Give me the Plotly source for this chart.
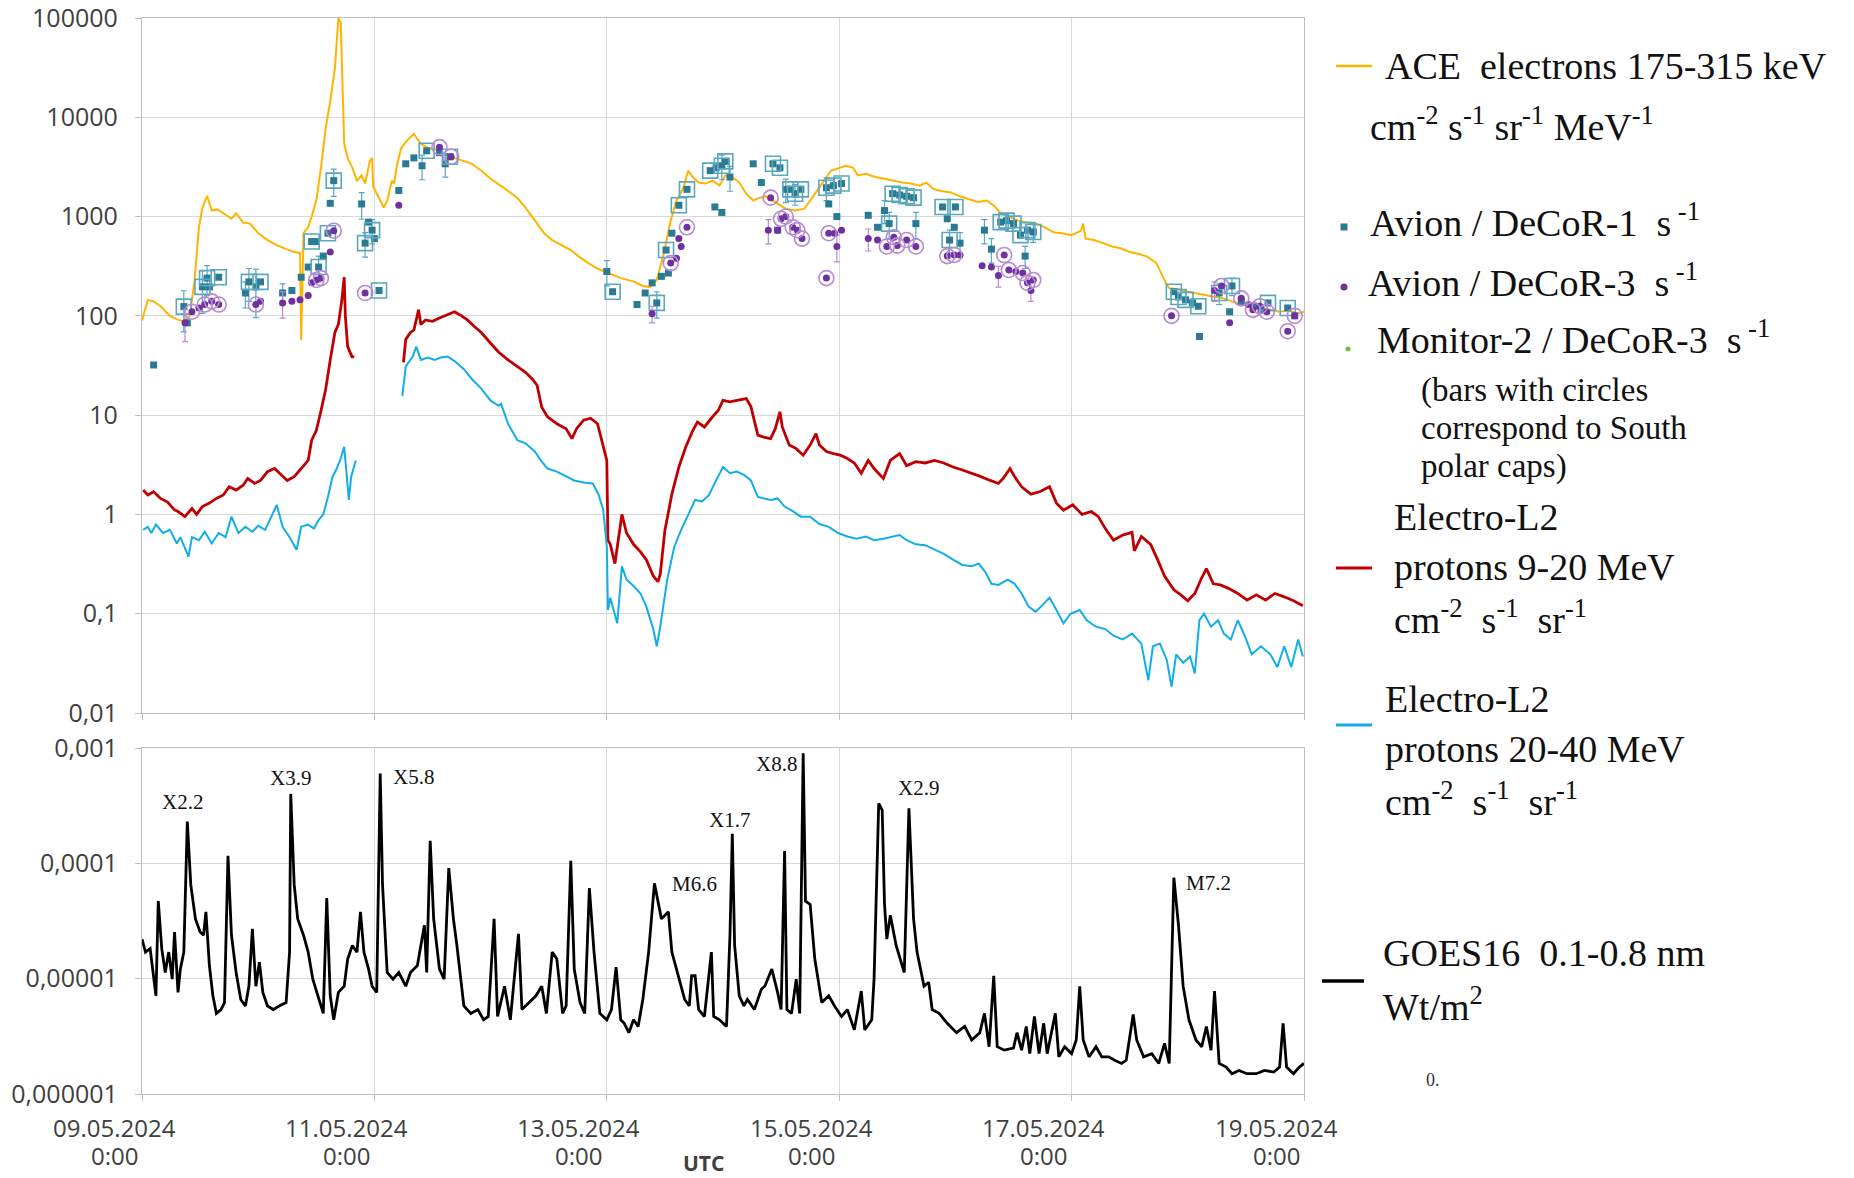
import pandas as pd
import plotly.graph_objects as go

# ---------------- DATA (x = day of May 2024, fractional) ----------------
ace = [(9.00,90),(9.05,145),(9.10,140),(9.16,125),(9.24,100),(9.31,91),(9.37,88),(9.41,100),(9.45,215),(9.49,780),
       (9.52,1230),(9.56,1620),(9.60,1150),(9.65,1180),(9.70,1080),(9.77,950),(9.81,1080),(9.87,870),(9.93,850),(10.00,680),
       (10.08,580),(10.16,515),(10.23,475),(10.31,440),(10.36,430),(10.37,57),(10.39,680),(10.43,780),(10.46,1000),(10.50,1450),
       (10.54,3100),(10.58,7700),(10.62,14500),(10.66,31000),(10.69,100000),(10.71,90000),(10.72,36000),(10.74,5400),(10.77,3900),(10.81,3100),
       (10.85,2300),(10.89,2600),(10.92,2150),(10.96,3600),(10.98,3900),(10.99,2000),(11.04,1540),(11.08,1230),(11.11,1440),(11.15,2300),
       (11.17,2150),(11.19,3100),(11.23,4900),(11.29,6000),(11.34,6800),(11.40,5400),(11.46,4900),(11.54,4700),(11.61,4200),(11.69,3900),
       (11.77,3600),(11.84,3400),(11.92,2900),(12.00,2400),(12.11,1960),(12.23,1540),(12.30,1230),(12.38,910),(12.46,680),(12.53,580),
       (12.61,515),(12.69,460),(12.76,395),(12.84,340),(12.92,300),(13.01,270),(13.12,240),(13.24,220),(13.31,200),(13.37,195),
       (13.43,230),(13.49,425),(13.55,910),(13.60,1450),(13.66,1960),(13.70,2900),(13.74,2500),(13.79,2200),(13.85,2150),(13.91,2300),
       (13.97,2050),(14.02,2600),(14.08,2500),(14.14,2200),(14.20,1700),(14.26,1450),(14.31,1540),(14.37,1600),(14.43,1450),(14.49,1290),
       (14.54,1200),(14.62,1150),(14.70,1200),(14.75,1450),(14.81,1800),(14.87,2300),(14.93,2900),(15.00,3100),(15.06,3250),(15.12,3100),
       (15.16,2600),(15.23,2700),(15.31,2500),(15.39,2400),(15.46,2300),(15.54,2200),(15.62,2150),(15.69,2050),(15.75,2200),(15.81,1900),
       (15.89,1800),(15.96,1750),(16.04,1600),(16.12,1500),(16.19,1400),(16.27,1450),(16.33,1290),(16.39,1080),(16.46,1000),(16.54,910),
       (16.62,870),(16.69,850),(16.77,780),(16.85,690),(16.92,680),(17.00,650),(17.08,720),(17.10,850),(17.12,600),(17.19,580),
       (17.27,540),(17.35,500),(17.42,480),(17.50,440),(17.58,420),(17.65,395),(17.73,340),(17.77,270),(17.81,215),(17.84,190),
       (17.92,185),(18.00,175),(18.07,170),(18.15,162),(18.23,155),(18.31,150),(18.38,140),(18.46,130),(18.54,125),(18.61,120),
       (18.69,115),(18.80,110),(18.86,115),(18.94,105),(19.00,110)]

red = [(9.01,1.76),(9.05,1.57),(9.10,1.69),(9.16,1.45),(9.22,1.33),(9.28,1.11),(9.31,1.07),(9.37,0.95),(9.43,1.15),(9.47,1.0),
       (9.52,1.2),(9.58,1.3),(9.64,1.45),(9.70,1.57),(9.75,1.9),(9.81,1.76),(9.87,1.97),(9.91,2.3),(9.97,2.05),(10.02,2.2),
       (10.08,2.7),(10.14,2.9),(10.20,2.5),(10.25,2.2),(10.31,2.4),(10.37,2.9),(10.43,3.5),(10.46,5.6),(10.50,7.0),(10.54,11),
       (10.58,18),(10.62,36),(10.66,68),(10.69,82),(10.72,145),(10.74,245),(10.75,100),(10.77,49),(10.81,38),(10.82,40),
       (11.00,None),
       (11.25,34),(11.27,58),(11.31,68),(11.34,72),(11.38,115),(11.40,82),(11.44,91),(11.50,88),(11.56,95),(11.61,100),
       (11.69,110),(11.75,100),(11.80,91),(11.86,78),(11.92,68),(12.00,53),(12.07,43),(12.15,36),(12.23,31),(12.30,27),
       (12.36,23),(12.40,20),(12.44,12),(12.49,9.6),(12.57,8.2),(12.65,7.3),(12.70,5.8),(12.74,7.3),(12.80,8.9),(12.86,9.3),
       (12.92,8.2),(12.97,4.8),(13.00,3.5),(13.01,0.55),(13.03,0.5),(13.07,0.32),(13.13,1.0),(13.17,0.65),(13.23,0.5),(13.29,0.42),
       (13.34,0.35),(13.40,0.24),(13.44,0.21),(13.46,0.25),(13.50,0.69),(13.56,1.6),(13.62,3.0),(13.68,4.8),(13.74,7.0),(13.78,8.5),
       (13.84,7.6),(13.90,9.3),(13.96,11.2),(14.00,14.1),(14.06,13.6),(14.12,14.1),(14.20,14.7),(14.24,12.2),(14.30,6.3),(14.35,6.0),
       (14.41,5.8),(14.45,7.3),(14.49,10.8),(14.51,7.6),(14.57,5.0),(14.63,4.6),(14.69,3.95),(14.75,5.0),(14.80,6.5),(14.83,5.0),
       (14.89,4.3),(14.95,4.1),(15.01,3.95),(15.07,3.65),(15.13,3.3),(15.19,2.6),(15.25,3.5),(15.30,2.9),(15.38,2.3),(15.44,3.5),
       (15.52,4.1),(15.58,3.1),(15.66,3.4),(15.74,3.3),(15.82,3.5),(15.90,3.3),(15.98,3.0),(16.06,2.8),(16.14,2.6),(16.22,2.4),
       (16.30,2.2),(16.37,2.05),(16.41,2.3),(16.47,2.9),(16.51,2.4),(16.57,1.9),(16.65,1.6),(16.73,1.7),(16.81,1.9),(16.87,1.3),
       (16.93,1.1),(17.01,1.25),(17.09,1.0),(17.17,1.07),(17.23,0.95),(17.29,0.72),(17.36,0.55),(17.44,0.62),(17.52,0.66),(17.54,0.43),
       (17.60,0.6),(17.68,0.5),(17.74,0.35),(17.80,0.24),(17.88,0.174),(17.94,0.155),(18.00,0.135),(18.06,0.16),(18.12,0.23),(18.16,0.285),
       (18.22,0.2),(18.28,0.195),(18.35,0.18),(18.43,0.16),(18.51,0.137),(18.59,0.155),(18.67,0.137),(18.75,0.16),(18.83,0.148),(18.91,0.135),
       (18.99,0.12)]

blue = [(9.01,0.70),(9.05,0.75),(9.08,0.65),(9.12,0.79),(9.18,0.65),(9.24,0.70),(9.30,0.51),(9.33,0.59),(9.40,0.375),(9.43,0.59),
        (9.49,0.55),(9.54,0.67),(9.60,0.51),(9.66,0.65),(9.72,0.59),(9.77,0.95),(9.83,0.65),(9.89,0.75),(9.95,0.67),(10.00,0.77),
        (10.06,0.70),(10.10,0.88),(10.16,1.25),(10.21,0.75),(10.27,0.59),(10.33,0.44),(10.37,0.75),(10.43,0.79),(10.48,0.72),(10.52,0.88),
        (10.56,1.0),(10.60,1.5),(10.64,2.4),(10.67,2.8),(10.71,3.65),(10.74,4.8),(10.76,2.8),(10.78,1.4),(10.80,2.4),(10.84,3.5),
        (11.00,None),
        (11.24,15.6),(11.27,31),(11.33,39),(11.36,49),(11.40,36),(11.46,38),(11.52,36),(11.57,38),(11.63,39),(11.69,35),
        (11.77,29),(11.84,23),(11.92,18.5),(12.00,14),(12.07,12.4),(12.09,13.0),(12.15,8.2),(12.23,5.6),(12.30,5.2),(12.38,4.3),
        (12.44,3.4),(12.49,2.9),(12.57,2.7),(12.65,2.4),(12.72,2.2),(12.80,2.1),(12.88,2.05),(12.93,1.57),(12.97,1.1),(13.00,0.47),
        (13.01,0.109),(13.03,0.145),(13.09,0.08),(13.13,0.3),(13.17,0.22),(13.23,0.19),(13.29,0.16),(13.34,0.118),(13.40,0.07),(13.43,0.047),
        (13.46,0.074),(13.52,0.22),(13.58,0.47),(13.64,0.7),(13.70,1.0),(13.76,1.4),(13.82,1.35),(13.88,1.57),(13.94,2.2),(14.00,3.0),
        (14.06,2.6),(14.12,2.7),(14.18,2.5),(14.24,2.2),(14.30,1.5),(14.35,1.45),(14.41,1.4),(14.47,1.45),(14.53,1.2),(14.59,1.1),
        (14.67,0.95),(14.75,0.95),(14.83,0.8),(14.91,0.75),(14.99,0.65),(15.07,0.6),(15.15,0.57),(15.23,0.6),(15.30,0.55),(15.38,0.57),
        (15.46,0.6),(15.52,0.62),(15.58,0.55),(15.66,0.5),(15.74,0.49),(15.82,0.44),(15.90,0.4),(15.98,0.35),(16.06,0.31),(16.14,0.3),
        (16.20,0.32),(16.26,0.26),(16.31,0.2),(16.37,0.195),(16.45,0.22),(16.51,0.2),(16.57,0.16),(16.63,0.118),(16.69,0.105),(16.75,0.122),
        (16.81,0.145),(16.87,0.109),(16.93,0.08),(16.99,0.1),(17.07,0.109),(17.13,0.086),(17.21,0.074),(17.29,0.07),(17.36,0.06),(17.44,0.055),
        (17.52,0.063),(17.60,0.05),(17.66,0.0214),(17.70,0.047),(17.76,0.05),(17.82,0.034),(17.86,0.0184),(17.90,0.039),(17.96,0.032),(18.02,0.037),
        (18.06,0.025),(18.10,0.086),(18.14,0.1),(18.20,0.074),(18.26,0.086),(18.31,0.063),(18.37,0.055),(18.43,0.086),(18.49,0.06),(18.55,0.039),
        (18.63,0.047),(18.71,0.039),(18.77,0.029),(18.83,0.047),(18.89,0.029),(18.95,0.055),(18.99,0.037)]

goes = [(9.00,2.2e-5),(9.03,1.7e-5),(9.07,1.82e-5),(9.10,9.9e-6),(9.12,7.1e-6),(9.14,4.7e-5),(9.17,1.82e-5),(9.20,1.13e-5),(9.23,1.7e-5),(9.26,9.9e-6),
        (9.28,2.54e-5),(9.31,7.6e-6),(9.33,1.21e-5),(9.36,1.7e-5),(9.39,2.3e-4),(9.42,6.5e-5),(9.46,3.3e-5),(9.50,2.54e-5),(9.53,2.38e-5),(9.55,3.8e-5),
        (9.58,1.3e-5),(9.61,7.1e-6),(9.64,5.0e-6),(9.68,5.4e-6),(9.71,6.2e-6),(9.74,1.16e-4),(9.77,2.38e-5),(9.81,1.13e-5),(9.85,6.6e-6),(9.89,5.8e-6),
        (9.92,8.6e-6),(9.95,2.7e-5),(9.98,8.6e-6),(10.01,1.39e-5),(10.04,7.6e-6),(10.08,5.8e-6),(10.13,5.4e-6),(10.18,5.8e-6),(10.24,6.2e-6),(10.27,1.7e-5),
        (10.28,4.0e-4),(10.31,6.5e-5),(10.34,3.3e-5),(10.39,2.38e-5),(10.43,1.7e-5),(10.47,9.9e-6),(10.52,6.6e-6),(10.56,5.0e-6),(10.59,5.0e-5),(10.62,7.1e-6),
        (10.65,4.4e-6),(10.69,7.6e-6),(10.74,8.6e-6),(10.77,1.48e-5),(10.81,1.94e-5),(10.85,1.7e-5),(10.88,3.8e-5),(10.91,1.7e-5),(10.95,1.21e-5),(10.98,8.6e-6),
        (11.02,7.6e-6),(11.05,6.0e-4),(11.07,6.5e-5),(11.11,1.13e-5),(11.16,9.9e-6),(11.21,1.13e-5),(11.27,8.6e-6),(11.31,1.13e-5),(11.37,1.3e-5),(11.43,2.9e-5),
        (11.45,1.13e-5),(11.48,1.57e-4),(11.51,3.3e-5),(11.56,1.21e-5),(11.60,9.9e-6),(11.64,9.1e-5),(11.68,3.3e-5),(11.71,1.94e-5),(11.77,5.8e-6),(11.83,5.0e-6),
        (11.89,5.4e-6),(11.94,4.4e-6),(11.98,4.7e-6),(12.03,3.3e-5),(12.06,4.7e-6),(12.12,8.6e-6),(12.17,4.4e-6),(12.24,2.45e-5),(12.27,5.4e-6),(12.33,6.2e-6),
        (12.39,7.1e-6),(12.44,8.6e-6),(12.48,5.0e-6),(12.53,1.7e-5),(12.57,1.48e-5),(12.62,5.0e-6),(12.65,5.8e-6),(12.69,1.05e-4),(12.72,1.21e-5),(12.77,6.2e-6),
        (12.81,5.0e-6),(12.85,6.1e-5),(12.89,1.7e-5),(12.94,5.0e-6),(13.00,4.4e-6),(13.04,5.4e-6),(13.08,1.26e-5),(13.12,4.4e-6),(13.15,4.1e-6),(13.19,3.4e-6),
        (13.23,4.4e-6),(13.27,3.85e-6),(13.31,6.6e-6),(13.36,1.7e-5),(13.41,6.7e-5),(13.47,3.3e-5),(13.53,3.8e-5),(13.56,1.7e-5),(13.62,9.9e-6),(13.67,6.6e-6),
        (13.71,5.8e-6),(13.73,1.06e-5),(13.76,1.06e-5),(13.79,5.4e-6),(13.84,4.7e-6),(13.90,1.7e-5),(13.92,4.7e-6),(13.97,4.4e-6),(14.03,3.85e-6),(14.06,2.38e-5),
        (14.08,1.8e-4),(14.10,1.94e-5),(14.14,7.1e-6),(14.18,5.8e-6),(14.21,6.6e-6),(14.27,5.4e-6),(14.33,8.1e-6),(14.36,8.6e-6),(14.42,1.21e-5),(14.47,7.6e-6),
        (14.50,5.4e-6),(14.53,1.28e-4),(14.55,5.4e-6),(14.59,5.0e-6),(14.63,9.9e-6),(14.66,5.0e-6),(14.69,9.0e-4),(14.71,4.7e-5),(14.75,4.4e-5),(14.79,1.48e-5),
        (14.85,6.2e-6),(14.91,7.1e-6),(14.96,5.8e-6),(15.02,4.7e-6),(15.07,5.4e-6),(15.13,3.6e-6),(15.19,7.8e-6),(15.22,3.6e-6),(15.28,4.4e-6),(15.30,9.9e-6),
        (15.34,3.3e-4),(15.37,2.9e-4),(15.39,4.4e-5),(15.41,2.2e-5),(15.44,3.55e-5),(15.49,1.94e-5),(15.56,1.13e-5),(15.60,3.0e-4),(15.64,3.3e-5),(15.67,1.7e-5),
        (15.73,8.6e-6),(15.77,9.3e-6),(15.80,5.4e-6),(15.86,5.0e-6),(15.93,4.1e-6),(16.01,3.4e-6),(16.08,3.85e-6),(16.14,2.94e-6),(16.21,3.4e-6),(16.25,5.0e-6),
        (16.29,2.57e-6),(16.33,1.06e-5),(16.36,2.57e-6),(16.42,2.4e-6),(16.50,2.5e-6),(16.53,3.4e-6),(16.57,2.4e-6),(16.61,3.85e-6),(16.64,2.24e-6),(16.68,4.7e-6),
        (16.72,2.24e-6),(16.76,4.1e-6),(16.79,2.24e-6),(16.86,5.0e-6),(16.89,2.1e-6),(16.94,2.57e-6),(17.00,2.24e-6),(17.04,2.94e-6),(17.07,8.6e-6),(17.10,2.94e-6),
        (17.15,2.1e-6),(17.21,2.57e-6),(17.26,2.1e-6),(17.32,2.1e-6),(17.37,1.96e-6),(17.43,1.84e-6),(17.47,1.96e-6),(17.53,4.9e-6),(17.56,2.94e-6),(17.62,2.1e-6),
        (17.69,2.24e-6),(17.75,1.84e-6),(17.80,2.75e-6),(17.84,1.84e-6),(17.88,7.5e-5),(17.92,2.9e-5),(17.96,8.6e-6),(18.01,4.4e-6),(18.07,2.94e-6),(18.12,2.57e-6),
        (18.16,3.85e-6),(18.20,2.4e-6),(18.23,7.8e-6),(18.27,1.84e-6),(18.33,1.71e-6),(18.38,1.5e-6),(18.44,1.6e-6),(18.51,1.5e-6),(18.59,1.5e-6),(18.66,1.6e-6),
        (18.74,1.55e-6),(18.79,1.71e-6),(18.82,4.1e-6),(18.85,1.71e-6),(18.91,1.5e-6),(18.96,1.71e-6),(19.00,1.84e-6)]

# Avion / DeCoR-1 : (day, count rate, South-polar-cap flag, error)
decor1 = [(9.10,32,0,0),(9.36,124,1,55),(9.39,85,0,0),(9.52,196,1,90),(9.56,240,1,80),(9.58,196,0,0),(9.66,245,1,0),
          (9.89,170,0,50),(9.92,220,1,80),(9.98,196,0,100),(10.02,220,1,0),(10.21,170,0,40),(10.29,180,0,0),(10.37,245,0,0),
          (10.43,310,0,0),(10.46,560,1,0),(10.50,560,0,0),(10.52,310,1,90),(10.56,400,0,0),(10.60,680,1,0),(10.62,1360,0,0),
          (10.65,2300,1,700),(10.89,1340,0,400),(10.92,540,1,150),(10.95,880,0,0),(10.98,730,1,200),(11.00,600,0,0),(11.04,180,1,0),
          (11.21,1830,0,0),(11.27,3400,0,0),(11.34,3900,0,0),(11.41,3250,0,900),(11.45,4600,1,0),(11.56,4400,0,0),(11.61,3400,0,900),
          (11.65,4000,1,0),
          (13.00,280,0,80),(13.05,175,1,0),(13.26,130,0,0),(13.33,170,0,0),(13.39,215,0,0),(13.43,135,1,40),(13.47,250,0,0),
          (13.51,460,1,0),(13.53,270,0,0),(13.56,680,0,0),(13.62,1300,1,0),(13.69,1880,1,0),(13.89,2900,1,0),(13.94,3100,0,0),
          (13.99,3250,1,900),(14.02,3600,1,0),(14.06,2500,0,700),(13.93,1250,0,0),(13.99,1100,0,0),(14.26,3400,0,0),(14.33,2200,0,0),
          (14.43,3400,1,0),(14.49,3100,1,0),(14.47,730,0,0),(14.54,1880,0,500),(14.58,1880,1,0),(14.62,1700,1,400),(14.67,1880,1,0),
          (14.89,1950,1,500),(14.91,1340,0,0),(14.95,2050,1,0),(14.98,1000,0,0),(15.02,2150,1,0),(15.25,1030,0,0),(15.33,780,0,0),
          (15.39,1150,0,300),(15.43,850,1,250),(15.46,1700,1,0),(15.52,1650,1,0),(15.58,1600,1,0),(15.64,1550,1,0),(15.66,850,0,250),
          (15.89,1250,1,0),(15.93,950,0,0),(15.95,580,1,150),(15.99,780,0,0),(16.00,1250,1,0),(16.04,540,0,150),(16.25,730,0,200),
          (16.31,470,0,130),(16.39,880,1,0),(16.44,910,1,0),(16.50,850,1,0),(16.56,650,1,0),(16.60,400,0,100),(16.62,730,1,0),
          (16.67,700,1,150),
          (17.88,175,1,0),(17.92,155,1,0),(17.98,145,1,0),(18.04,135,0,0),(18.09,125,1,0),(18.10,62,0,0),(18.27,170,1,40),
          (18.36,110,0,0),(18.38,200,1,40),(18.46,140,0,0),(18.57,125,0,0),(18.63,115,0,0),(18.69,135,1,0),(18.86,120,1,0),
          (18.92,100,0,0)]

# Avion / DeCoR-3 : (day, count rate, South-polar-cap flag, error)
decor3 = [(9.37,85,0,30),(9.43,110,1,0),(9.49,120,0,0),(9.54,130,1,0),(9.60,140,1,0),(9.66,130,1,0),(9.98,130,1,0),
          (10.02,140,0,0),(10.21,135,0,40),(10.29,140,0,0),(10.36,145,0,0),(10.43,160,0,0),(10.46,215,0,0),(10.50,230,1,0),
          (10.54,240,1,0),(10.62,440,0,0),(10.65,720,1,0),(10.92,170,1,0),(11.21,1300,0,0),(11.56,5000,1,0),(11.66,4000,1,0),
          (13.39,105,0,20),(13.55,340,1,0),(13.60,380,0,0),(13.62,600,0,0),(13.64,500,0,0),(13.69,780,1,0),(14.39,730,0,200),
          (14.41,1550,1,0),(14.47,730,0,0),(14.50,950,1,0),(14.54,1000,1,0),(14.60,780,1,0),(14.64,730,1,0),(14.68,600,1,0),
          (14.89,240,1,0),(14.91,680,1,0),(14.96,680,0,0),(14.98,500,0,150),(15.02,730,0,0),(15.25,600,0,150),(15.33,580,0,0),
          (15.41,500,1,0),(15.47,620,1,0),(15.50,510,1,0),(15.58,580,1,0),(15.66,500,1,0),(15.93,400,1,0),(15.99,410,1,0),
          (16.04,410,0,0),(16.23,320,0,0),(16.31,310,0,0),(16.37,255,0,60),(16.42,410,1,0),(16.46,290,1,0),(16.52,280,0,0),
          (16.58,270,1,0),(16.62,215,1,0),(16.65,180,0,40),(16.67,230,1,0),(17.86,100,1,0),(18.23,180,0,40),(18.29,200,1,0),
          (18.36,85,0,0),(18.46,150,1,0),(18.52,130,0,0),(18.56,115,1,0),(18.62,125,1,0),(18.68,110,1,0),(18.86,70,1,0),
          (18.92,100,1,0)]

flare_names = ["X2.2", "X3.9", "X5.8", "M6.6", "X1.7", "X8.8", "X2.9", "M7.2"]
date_ticks = [9, 11, 13, 15, 17, 19]
date_text = ["09.05.2024", "11.05.2024", "13.05.2024", "15.05.2024", "17.05.2024", "19.05.2024"]
top_ticks = [0.01, 0.1, 1, 10, 100, 1000, 10000, 100000]
top_text = ["0,01", "0,1", "1", "10", "100", "1000", "10000", "100000"]
bot_ticks = [1e-6, 1e-5, 1e-4, 1e-3]
bot_text = ["0,000001", "0,00001", "0,0001", "0,001"]

# ---------------- helpers ----------------
START = pd.Timestamp("2024-05-01")
def T(days):
    return [START + pd.Timedelta(days=d - 1) for d in days]
def col(rows, i):
    return [r[i] for r in rows]

W, H = 1854, 1178
OFF = 8  # page body margin
L, R, TOP, BOT = 142 - OFF, 1304 - OFF, 18 - OFF, 1094 - OFF
def px(x):  # target screen pixel -> paper
    return (x - OFF - L) / (R - L)
def py(y):
    return (BOT - (y - OFF)) / (BOT - TOP)

GRID = "#d9d9d9"
TICKFONT = dict(family="Open Sans", size=25, color="#404040")
DATEFONT = dict(family="Open Sans", size=24, color="#404040")
SERIF = "Liberation Serif"

ACE_C, RED_C, BLUE_C = "#ffb400", "#c00000", "#12aee8"
D1_C, D1_BOX, D3_C, D3_CIR = "#2b7a93", "#5aa7c0", "#7030a0", "#b68ad4"

fig = go.Figure()

fig.add_trace(go.Scatter(x=T(col(ace, 0)), y=col(ace, 1), mode="lines",
                         line=dict(color=ACE_C, width=2), xaxis="x", yaxis="y"))
fig.add_trace(go.Scatter(x=T(col(red, 0)), y=col(red, 1), mode="lines",
                         line=dict(color=RED_C, width=2.8), xaxis="x", yaxis="y"))
fig.add_trace(go.Scatter(x=T(col(blue, 0)), y=col(blue, 1), mode="lines",
                         line=dict(color=BLUE_C, width=2), xaxis="x", yaxis="y"))

def points(rows, color, boxcolor, sym, opensym):
    x = T(col(rows, 0)); y = col(rows, 1); err = col(rows, 3)
    flag = col(rows, 2)
    fig.add_trace(go.Scatter(x=x, y=y, mode="markers",
                             marker=dict(symbol=sym, size=7, color=color),
                             error_y=dict(type="data", array=err, visible=True,
                                          color=boxcolor, thickness=1.2, width=3),
                             xaxis="x", yaxis="y"))
    bx = [x[i] for i in range(len(x)) if flag[i]]
    by = [y[i] for i in range(len(y)) if flag[i]]
    fig.add_trace(go.Scatter(x=bx, y=by, mode="markers",
                             marker=dict(symbol=opensym, size=15, color=boxcolor,
                                         line=dict(width=1.6, color=boxcolor)),
                             xaxis="x", yaxis="y"))

points(decor1, D1_C, D1_BOX, "square", "square-open")
points(decor3, D3_C, D3_CIR, "circle", "circle-open")

fig.add_trace(go.Scatter(x=T(col(goes, 0)), y=col(goes, 1), mode="lines",
                         line=dict(color="black", width=2.8), xaxis="x2", yaxis="y2"))

xr = T([9, 19])
common_x = dict(range=xr, tickvals=T(date_ticks), showticklabels=False, showgrid=True,
                gridcolor=GRID, gridwidth=1.3, ticks="outside", ticklen=6, tickcolor="#bfbfbf",
                showline=True, linecolor="#bfbfbf", linewidth=1.3, mirror=True, zeroline=False,
                automargin=False)
common_y = dict(type="log", showgrid=True, gridcolor=GRID, gridwidth=1.3, ticks="outside",
                ticklen=6, tickcolor="#bfbfbf", showline=True, linecolor="#bfbfbf",
                linewidth=1.3, mirror=True, tickfont=TICKFONT, ticklabelstandoff=12, zeroline=False,
                automargin=False, ticklabeloverflow="allow")

fig.update_layout(
    width=W, height=H, margin=dict(l=L, r=W - R, t=TOP, b=H - BOT, autoexpand=False),
    paper_bgcolor="white", plot_bgcolor="white", showlegend=False,
    xaxis=dict(domain=[0, 1], anchor="y", **common_x),
    yaxis=dict(domain=[py(713), 1], range=[-2, 5], tickvals=top_ticks, ticktext=top_text, **common_y),
    xaxis2=dict(domain=[0, 1], anchor="y2", matches="x", **common_x),
    yaxis2=dict(domain=[0, py(748)], range=[-6, -3], tickvals=bot_ticks, ticktext=bot_text, **common_y),
)

ann = []
for d, t in zip(date_ticks, date_text):
    ann.append(dict(x=T([d])[0], xref="x2", y=py(1127), yref="paper", text=t, showarrow=False,
                    xshift=-28, font=DATEFONT, xanchor="center", yanchor="middle"))
    ann.append(dict(x=T([d])[0], xref="x2", y=py(1155), yref="paper", text="0:00", showarrow=False,
                    xshift=-28, font=DATEFONT, xanchor="center", yanchor="middle"))
ann.append(dict(x=px(703), y=py(1163), xref="paper", yref="paper", text="<b>UTC</b>", showarrow=False,
                font=dict(family="Open Sans", size=21, color="#404040"), xanchor="center", yanchor="middle"))

flare_pos = [(9.35, -3.47, "center"), (10.28, -3.26, "center"), (11.14, -3.25, "left"), (13.54, -4.18, "left"),
             (14.06, -3.62, "center"), (14.65, -3.14, "right"), (15.68, -3.35, "center"), (17.97, -4.17, "left")]
for name, (d, ly, anc) in zip(flare_names, flare_pos):
    ann.append(dict(x=T([d])[0], y=ly, xref="x2", yref="y2", text=name, showarrow=False,
                    font=dict(family=SERIF, size=21, color="#111"), xanchor=anc, yanchor="middle"))

LF = dict(family=SERIF, size=38, color="#111")
NF = dict(family=SERIF, size=33, color="#111")
def txt(x, y, s, f=LF):
    ann.append(dict(x=px(x), y=py(y), xref="paper", yref="paper", text=s, showarrow=False,
                    font=f, xanchor="left", yanchor="middle"))
nb = "\u00a0"
txt(1383, 66, "ACE" + nb * 2 + "electrons 175-315 keV")
txt(1368, 124, "cm<sup>-2</sup> s<sup>-1</sup> sr<sup>-1</sup> MeV<sup>-1</sup>")
txt(1368, 220, "Avion / DeCoR-1" + nb * 2 + "s<sup> -1</sup>")
txt(1366, 280, "Avion / DeCoR-3" + nb * 2 + "s<sup> -1</sup>")
txt(1375, 337, "Monitor-2 / DeCoR-3" + nb * 2 + "s<sup> -1</sup>")
txt(1419, 390, "(bars with circles", NF)
txt(1419, 428, "correspond to South", NF)
txt(1419, 466, "polar caps)", NF)
txt(1392, 517, "Electro-L2")
txt(1392, 567, "protons 9-20 MeV")
txt(1392, 617, "cm<sup>-2</sup>" + nb + " s<sup>-1</sup>" + nb + " sr<sup>-1</sup>")
txt(1383, 699, "Electro-L2")
txt(1383, 749, "protons 20-40 MeV")
txt(1383, 799, "cm<sup>-2</sup>" + nb + " s<sup>-1</sup>" + nb + " sr<sup>-1</sup>")
txt(1381, 953, "GOES16" + nb * 2 + "0.1-0.8 nm")
txt(1381, 1004, "Wt/m<sup>2</sup>")
txt(1424, 1080, "0.", dict(family=SERIF, size=18, color="#333"))
fig.update_layout(annotations=ann)

shapes = []
def lseg(x0, x1, y, c, w=3):
    shapes.append(dict(type="line", xref="paper", yref="paper", x0=px(x0), x1=px(x1), y0=py(y), y1=py(y),
                       line=dict(color=c, width=w)))
lseg(1336, 1372, 66, ACE_C, 2.5)
lseg(1336, 1372, 568, RED_C, 3)
lseg(1336, 1372, 725, BLUE_C, 3)
lseg(1322, 1364, 981, "black", 3.5)
def dot(x, y, r, c, kind):
    shapes.append(dict(type=kind, xref="paper", yref="paper", x0=px(x - r), x1=px(x + r),
                       y0=py(y + r), y1=py(y - r), fillcolor=c, line=dict(width=0)))
dot(1344, 227, 3.5, D1_C, "rect")
dot(1344, 287, 3.5, D3_C, "circle")
dot(1348, 349, 2.5, "#70c040", "circle")
fig.update_layout(shapes=shapes)

fig.write_html("out.html")
